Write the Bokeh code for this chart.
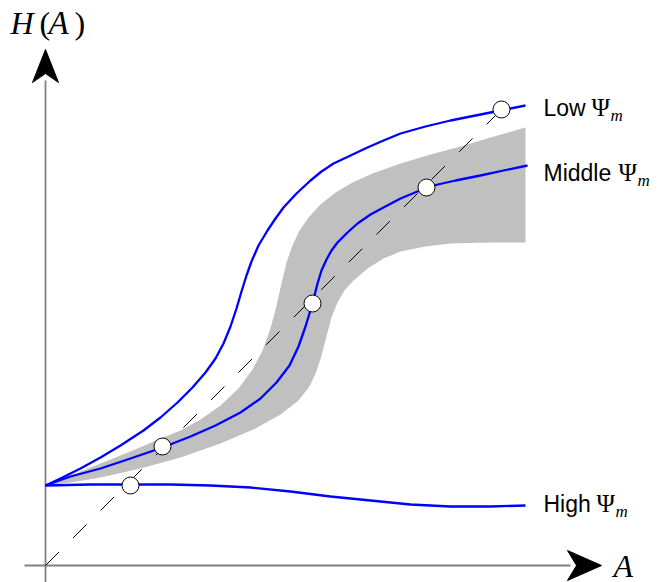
from bokeh.plotting import figure
from bokeh.models import Range1d
from bokeh.core.properties import value
from bokeh.embed import file_html
from bokeh.resources import INLINE

# ---- data (A = x, H = y) ----
low_A = [0, 17, 35, 55, 75, 98, 115, 132, 147, 160, 170, 178, 185, 191, 196, 201, 206, 213,
         222, 230, 238, 251, 265, 276, 288, 305, 322, 338, 355, 380, 405, 430, 455, 480]
low_H = [80, 88, 97, 108, 120, 135, 148, 163, 178, 193, 207, 222, 239, 257, 274, 290, 304, 320,
         335, 347, 358, 372, 385, 394, 402, 410, 418, 425, 432, 439, 445, 450, 455, 460]

mid_A = [0, 25, 55, 85, 117, 145, 170, 195, 215, 231, 244, 253, 260, 267, 272, 276, 281, 286,
         292, 302, 312, 325, 338, 355, 372, 388, 410, 435, 458, 482]
mid_H = [80, 89, 97, 107, 118, 129, 140, 153, 167, 183, 200, 219, 239, 262, 282, 295, 306, 315,
         323, 333, 342, 351, 358, 367, 374, 380, 385, 390, 395, 400]

high_A = [0, 45, 85, 125, 165, 205, 245, 285, 325, 365, 405, 445, 480]
high_H = [80, 81, 81, 81, 80, 78, 74, 69, 65, 61, 59, 59, 60]

band_up_A = [0, 25, 55, 85, 115, 135, 155, 175, 193, 207, 217, 225, 231, 236, 241, 247, 254,
             263, 275, 290, 307, 327, 355, 385, 415, 445, 480]
band_up_H = [80, 90, 102, 114, 127, 135, 146, 160, 177, 196, 215, 237, 260, 282, 303, 320, 335,
             348, 361, 373, 383, 392, 402, 411, 419, 428, 438]
band_lo_A = [0, 25, 55, 95, 135, 175, 210, 235, 253, 264, 271, 276, 281, 286, 292, 299, 308,
             322, 338, 355, 380, 405, 445, 480]
band_lo_H = [80, 83, 88, 97, 108, 122, 137, 151, 165, 179, 194, 210, 229, 248, 263, 275, 285,
             297, 307, 314, 319, 322, 323, 323]

fix_A = [85, 117, 267, 381, 456]
fix_H = [80, 119, 262, 378, 456]

diag_A = [0, 467]
diag_H = [0, 467]

labels = ["Low ", "Middle ", "High "]
label_H = [458, 393, 62]
psi_offset = [48, 75, 53]

# ---- figure ----
p = figure(width=662, height=582, output_backend="svg", toolbar_location=None,
           x_range=Range1d(-45, 617), y_range=Range1d(-17, 565),
           x_axis_type=None, y_axis_type=None, min_border=0)
p.outline_line_color = None
p.grid.visible = False

# axes lines
p.line([-21, 525], [0, 0], line_color="#808080", line_width=1.8)
p.line([0, 0], [-20, 485], line_color="#808080", line_width=1.8)
# arrow heads
p.patch([556, 522, 531, 522], [0, 15, 0, -15], fill_color="black", line_color="black", line_width=1)
p.patch([0, -13, 0, 13], [516, 483, 492, 483], fill_color="black", line_color="black", line_width=1)

# band
p.patch(band_up_A + band_lo_A[::-1], band_up_H + band_lo_H[::-1],
        fill_color="#c0c0c0", line_color=None)

# diagonal
p.line(diag_A, diag_H, line_color="black", line_width=1, line_dash="19 20")

# curves
for xs, ys in [(low_A, low_H), (mid_A, mid_H), (high_A, high_H)]:
    p.line(xs, ys, line_color="#0000ff", line_width=2.3, line_join="round")

p.scatter(fix_A, fix_H, size=17, fill_color="white", line_color="black", line_width=1)

# labels
sans = value("Liberation Sans")
serif = value("Liberation Serif")
for lab, hy, off in zip(labels, label_H, psi_offset):
    p.text([498], [hy], text=[lab], text_font=sans, text_font_size="23px",
           text_baseline="middle", text_align="left", text_color="black")
    xo = 498 + off
    p.text([xo], [hy], text=["\u03a8"], text_font=serif, text_font_size="25px",
           text_baseline="middle", text_align="left", text_color="black")
    p.text([xo + 19], [hy - 8], text=["m"], text_font=serif, text_font_style="italic",
           text_font_size="17px", text_baseline="middle", text_align="left", text_color="black")

# axis titles
p.text([-35], [543], text=["H"], text_font=serif, text_font_style="italic",
       text_font_size="32px", text_baseline="middle", text_align="left")
p.text([-6], [543], text=["("], text_font=serif, text_font_size="32px",
       text_baseline="middle", text_align="left")
p.text([3], [543], text=["A"], text_font=serif, text_font_style="italic",
       text_font_size="33px", text_baseline="middle", text_align="left")
p.text([29], [543], text=[")"], text_font=serif, text_font_size="32px",
       text_baseline="middle", text_align="left")
p.text([568], [0], text=["A"], text_font=serif, text_font_style="italic",
       text_font_size="32px", text_baseline="middle", text_align="left")

open("out.html", "w").write(file_html(p, INLINE))
